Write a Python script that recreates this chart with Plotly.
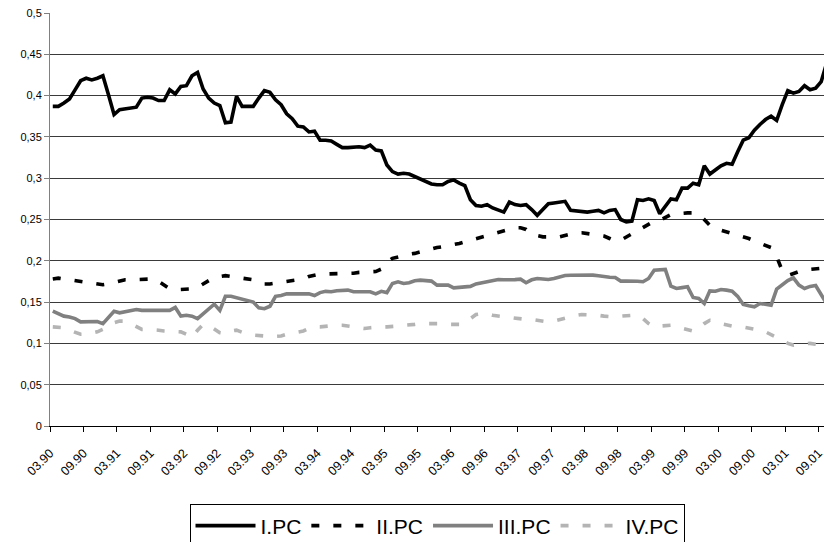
import plotly.graph_objects as go

tick_labels = ["03.90", "09.90", "03.91", "09.91", "03.92", "09.92", "03.93", "09.93",
               "03.94", "09.94", "03.95", "09.95", "03.96", "09.96", "03.97", "09.97",
               "03.98", "09.98", "03.99", "09.99", "03.00", "09.00", "03.01", "09.01"]

y_ticks = [0, 0.05, 0.1, 0.15, 0.2, 0.25, 0.3, 0.35, 0.4, 0.45, 0.5]
y_tick_text = ["0", "0,05", "0,1", "0,15", "0,2", "0,25", "0,3", "0,35", "0,4", "0,45", "0,5"]

pc1 = [0.387, 0.387, 0.391, 0.396, 0.407, 0.418, 0.421, 0.419, 0.421, 0.424,
       0.401, 0.377, 0.383, 0.384, 0.386, 0.386, 0.397, 0.398, 0.397, 0.394,
       0.394, 0.407, 0.402, 0.411, 0.412, 0.424, 0.428, 0.408, 0.397, 0.391,
       0.388, 0.367, 0.368, 0.399, 0.387, 0.387, 0.387, 0.397, 0.406, 0.404,
       0.395, 0.389, 0.378, 0.372, 0.363, 0.362, 0.356, 0.357, 0.346, 0.346,
       0.345, 0.341, 0.337, 0.337, 0.338, 0.338, 0.337, 0.340, 0.334, 0.333,
       0.316, 0.308, 0.305, 0.306, 0.305, 0.302, 0.300, 0.296, 0.293, 0.292,
       0.292, 0.296, 0.298, 0.294, 0.291, 0.274, 0.267, 0.266, 0.268, 0.264,
       0.261, 0.259, 0.271, 0.268, 0.267, 0.268, 0.262, 0.255, 0.262, 0.269,
       0.270, 0.271, 0.272, 0.261, 0.260, 0.260, 0.259, 0.260, 0.261, 0.258,
       0.261, 0.262, 0.250, 0.247, 0.248, 0.274, 0.273, 0.275, 0.273, 0.257,
       0.266, 0.275, 0.274, 0.288, 0.288, 0.294, 0.292, 0.315, 0.305, 0.310,
       0.315, 0.318, 0.317, 0.332, 0.346, 0.349, 0.358, 0.365, 0.371, 0.375,
       0.370, 0.389, 0.406, 0.403, 0.405, 0.412, 0.407, 0.409, 0.417, 0.440]

pc2 = [0.178, 0.179, 0.178, 0.177, 0.176, 0.175, 0.174, 0.172, 0.171, 0.171,
       0.172, 0.174, 0.176, 0.177, 0.177, 0.177, 0.177, 0.177, 0.178, 0.175,
       0.170, 0.166, 0.165, 0.165, 0.165, 0.166, 0.168, 0.172, 0.177, 0.180,
       0.181, 0.182, 0.181, 0.180, 0.180, 0.179, 0.177, 0.174, 0.172, 0.172,
       0.173, 0.174, 0.176, 0.177, 0.177, 0.178, 0.181, 0.183, 0.184, 0.184,
       0.184, 0.185, 0.185, 0.185, 0.185, 0.186, 0.186, 0.186, 0.187, 0.190,
       0.198, 0.203, 0.205, 0.207, 0.208, 0.209, 0.211, 0.212, 0.214, 0.216,
       0.217, 0.218, 0.219, 0.221, 0.223, 0.225, 0.227, 0.228, 0.230, 0.232,
       0.234, 0.237, 0.239, 0.240, 0.240, 0.238, 0.232, 0.230, 0.229, 0.229,
       0.228, 0.229, 0.231, 0.233, 0.234, 0.234, 0.233, 0.232, 0.231, 0.230,
       0.227, 0.224, 0.225, 0.229, 0.233, 0.237, 0.241, 0.245, 0.248, 0.249,
       0.252, 0.256, 0.257, 0.258, 0.258, 0.258, 0.256, 0.250, 0.243, 0.239,
       0.237, 0.235, 0.233, 0.232, 0.230, 0.227, 0.224, 0.221, 0.219, 0.216,
       0.205, 0.188, 0.182, 0.185, 0.187, 0.189, 0.190, 0.190, 0.191, 0.191]

pc3 = [0.139, 0.136, 0.133, 0.132, 0.130, 0.126, 0.126, 0.126, 0.1265, 0.124,
       0.132, 0.139, 0.137, 0.138, 0.139, 0.141, 0.140, 0.140, 0.140, 0.140,
       0.140, 0.140, 0.1435, 0.133, 0.134, 0.133, 0.130, 0.136, 0.142, 0.1475,
       0.140, 0.157, 0.157, 0.155, 0.153, 0.151, 0.150, 0.143, 0.142, 0.145,
       0.157, 0.158, 0.160, 0.160, 0.160, 0.159, 0.160, 0.158, 0.1615, 0.163,
       0.1625, 0.1637, 0.1645, 0.1645, 0.1625, 0.1625, 0.163, 0.1625, 0.160, 0.163,
       0.1615, 0.1726, 0.1746, 0.1726, 0.1734, 0.1758, 0.1766, 0.1760, 0.1754, 0.1705,
       0.1705, 0.1705, 0.1673, 0.1677, 0.1680, 0.1690, 0.1720, 0.1734, 0.1740, 0.1760,
       0.1774, 0.1770, 0.1766, 0.1772, 0.1778, 0.1734, 0.1770, 0.1786, 0.1780, 0.1774,
       0.1785, 0.1800, 0.1823, 0.1825, 0.1827, 0.1827, 0.1828, 0.1827, 0.1820, 0.1806,
       0.1800, 0.1798, 0.1754, 0.1756, 0.1758, 0.1752, 0.1746, 0.1786, 0.1887, 0.1892,
       0.1895, 0.1693, 0.1665, 0.1675, 0.1685, 0.1556, 0.1544, 0.1483, 0.1636, 0.1632,
       0.1652, 0.1645, 0.1632, 0.1570, 0.1471, 0.1455, 0.1443, 0.1483, 0.1470, 0.1463,
       0.1657, 0.1705, 0.1760, 0.1794, 0.1705, 0.1665, 0.1690, 0.1700, 0.1580, 0.1480]

pc4 = [0.120, 0.120, 0.119, 0.116, 0.113, 0.111, 0.111, 0.112, 0.114, 0.117,
       0.121, 0.125, 0.127, 0.127, 0.124, 0.120, 0.117, 0.117, 0.117, 0.116,
       0.115, 0.115, 0.115, 0.114, 0.111, 0.107, 0.116, 0.123, 0.122, 0.118,
       0.113, 0.112, 0.115, 0.116, 0.113, 0.111, 0.110, 0.110, 0.109, 0.108,
       0.108, 0.109, 0.111, 0.112, 0.113, 0.115, 0.118, 0.120, 0.120, 0.121,
       0.122, 0.122, 0.122, 0.121, 0.119, 0.118, 0.118, 0.119, 0.120, 0.120,
       0.120, 0.120, 0.121, 0.122, 0.122, 0.123, 0.124, 0.124, 0.125, 0.125,
       0.124, 0.123, 0.123, 0.123, 0.125, 0.130, 0.135, 0.136, 0.136, 0.134,
       0.133, 0.132, 0.131, 0.130, 0.129, 0.129, 0.129, 0.128, 0.127, 0.126,
       0.127, 0.129, 0.131, 0.133, 0.134, 0.135, 0.135, 0.135, 0.134, 0.133,
       0.132, 0.132, 0.133, 0.134, 0.134, 0.134, 0.130, 0.124, 0.120, 0.121,
       0.122, 0.122, 0.120, 0.118, 0.116, 0.115, 0.118, 0.124, 0.128, 0.127,
       0.124, 0.122, 0.121, 0.121, 0.120, 0.119, 0.117, 0.116, 0.114, 0.111,
       0.108, 0.104, 0.100, 0.098, 0.099, 0.100, 0.100, 0.099, 0.098, 0.097]

series = [
    ("I.PC", pc1, "#000000", "solid"),
    ("II.PC", pc2, "#000000", "8px,14px"),
    ("III.PC", pc3, "#808080", "solid"),
    ("IV.PC", pc4, "#b4b4b4", "8px,14px"),
]

fig = go.Figure()
for name, vals, color, dash in series:
    fig.add_trace(go.Scatter(
        x=list(range(len(vals))), y=vals, mode="lines", name=name,
        line=dict(color=color, width=3.6, dash=dash),
    ))

fig.update_layout(
    width=824, height=542,
    margin=dict(l=50, r=0, t=13, b=116, autoexpand=False),
    paper_bgcolor="white", plot_bgcolor="white",
    font=dict(family="Liberation Sans, Arial, sans-serif", color="black", size=11),
    showlegend=True,
    legend=dict(
        orientation="h", x=0.5, xanchor="center", y=-0.19, yanchor="top",
        bordercolor="black", borderwidth=1, bgcolor="white",
        font=dict(family="Liberation Sans Narrow, Arial Narrow, Liberation Sans", size=21),
        itemwidth=60, tracegroupgap=0,
    ),
)

fig.update_xaxes(
    range=[-0.5, 138.5],
    tickvals=[6 * k - 0.5 for k in range(len(tick_labels))],
    ticktext=tick_labels,
    tickangle=-45, ticklabelshift=0, ticklabelstandoff=9,
    ticklabeloverflow="allow",
    ticks="outside", ticklen=5, tickcolor="black",
    showline=True, linecolor="black", linewidth=1,
    showgrid=False, zeroline=False, automargin=False,
    tickfont=dict(size=12.5),
)
fig.update_yaxes(
    range=[0, 0.5],
    tickvals=y_ticks, ticktext=y_tick_text,
    ticks="outside", ticklen=5, tickcolor="#808080",
    showline=True, linecolor="#808080", linewidth=1,
    showgrid=True, gridcolor="#3a3a3a", gridwidth=1,
    zeroline=False, automargin=False,
    tickfont=dict(size=11),
)

fig.write_html(
    "out.html",
    config={"displayModeBar": False},
    post_script="document.body.style.margin='0';document.body.style.overflow='hidden';",
)
